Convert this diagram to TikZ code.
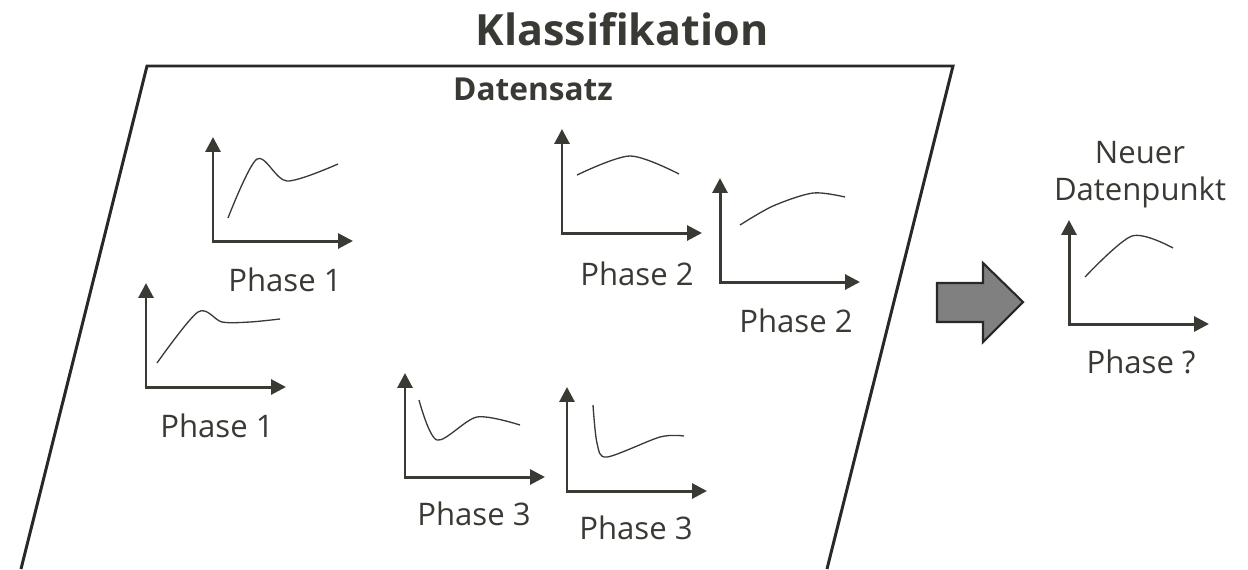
\documentclass[tikz,border=0pt]{standalone}
\usepackage{fontspec}
\setmainfont{Open Sans}
\usetikzlibrary{arrows.meta, positioning, calc}

\definecolor{dunkel}{RGB}{56,58,52}
\definecolor{rahmen}{RGB}{40,40,38}
\definecolor{pfeilgrau}{RGB}{128,128,128}

\tikzset{
  achse/.style={{Triangle[length=8.5pt,width=8.5pt]}-{Triangle[length=8.5pt,width=8.5pt]}, line width=1.7pt, draw=dunkel},
  kurve/.style={line width=0.75pt, draw=dunkel},
  phasetext/.style={font=\fontsize{17.7}{21}\selectfont, text=dunkel, anchor=base},
}

% Achsenkreuz an einem benannten Ursprung
\newcommand{\achsen}[1]{\draw[achse] ($(#1)+(0,-104)$) |- ($(#1)+(140,0)$);}

\begin{document}
\begin{tikzpicture}[x=0.02cm, y=-0.02cm]
  \useasboundingbox (0,0) rectangle (1248,569);

  % Ueberschriften
  \node[font=\bfseries\fontsize{24.5}{29}\selectfont, text=dunkel, anchor=base] (titel) at (622,45) {Klassifikation};
  \node[font=\bfseries\fontsize{18}{21}\selectfont, text=dunkel, anchor=base] (datensatz) at (533,100) {Datensatz};

  % Datensatz-Rahmen
  \draw[rahmen, line width=1.7pt] (21,569) -- (147,66) -- (953,66) -- (827,569);

  % Ursprung der Diagramme
  \coordinate (A) at (213,241);
  \coordinate (B) at (146,387);
  \coordinate (C) at (562,233);
  \coordinate (D) at (720,282);
  \coordinate (E) at (405,477);
  \coordinate (F) at (567,491);
  \coordinate (G) at (1069,324);

  \foreach \p in {A,B,C,D,E,F,G} {\achsen{\p}}

  % Kurven
  \draw[kurve, shift={(A)}] plot[smooth] coordinates {(15,-23) (44,-82) (74,-60) (125,-77)};
  \draw[kurve, shift={(B)}] plot[smooth] coordinates {(11,-24) (52,-75) (76,-65) (104,-65) (134,-68)};
  \draw[kurve, shift={(C)}] plot[smooth] coordinates {(15,-58) (68,-77) (117,-59)};
  \draw[kurve, shift={(D)}] plot[smooth] coordinates {(20,-57) (53,-76) (93,-89) (125,-85)};
  \draw[kurve, shift={(E)}] plot[smooth] coordinates {(14,-77) (32,-37) (72,-60) (115,-52)};
  \draw[kurve, shift={(F)}] plot[smooth] coordinates {(26,-86) (30,-48) (40,-34) (93,-54) (117,-55)};
  \draw[kurve, shift={(G)}] plot[smooth] coordinates {(16,-47) (63,-88) (104,-76)};

  % Beschriftungen
  \node[phasetext] (labA) at ($(A)+(72,50)$) {Phase 1};
  \node[phasetext] (labB) at ($(B)+(71,50)$) {Phase 1};
  \node[phasetext] (labC) at ($(C)+(75,52)$) {Phase 2};
  \node[phasetext] (labD) at ($(D)+(76,50)$) {Phase 2};
  \node[phasetext] (labE) at ($(E)+(69,48)$) {Phase 3};
  \node[phasetext] (labF) at ($(F)+(69,48)$) {Phase 3};
  \node[phasetext] (labG) at ($(G)+(72,49)$) {Phase ?};

  \node[phasetext] (neuer) at (1140,163) {Neuer};
  \node[phasetext] (datenpunkt) at (1140,200) {Datenpunkt};

  % Grosser Pfeil
  \draw[rahmen, line width=1.2pt, fill=pfeilgrau, line join=miter]
    (937,283) -- (983,283) -- (983,263) -- (1023,302) -- (983,342) -- (983,322) -- (937,322) -- cycle;
\end{tikzpicture}
\end{document}
